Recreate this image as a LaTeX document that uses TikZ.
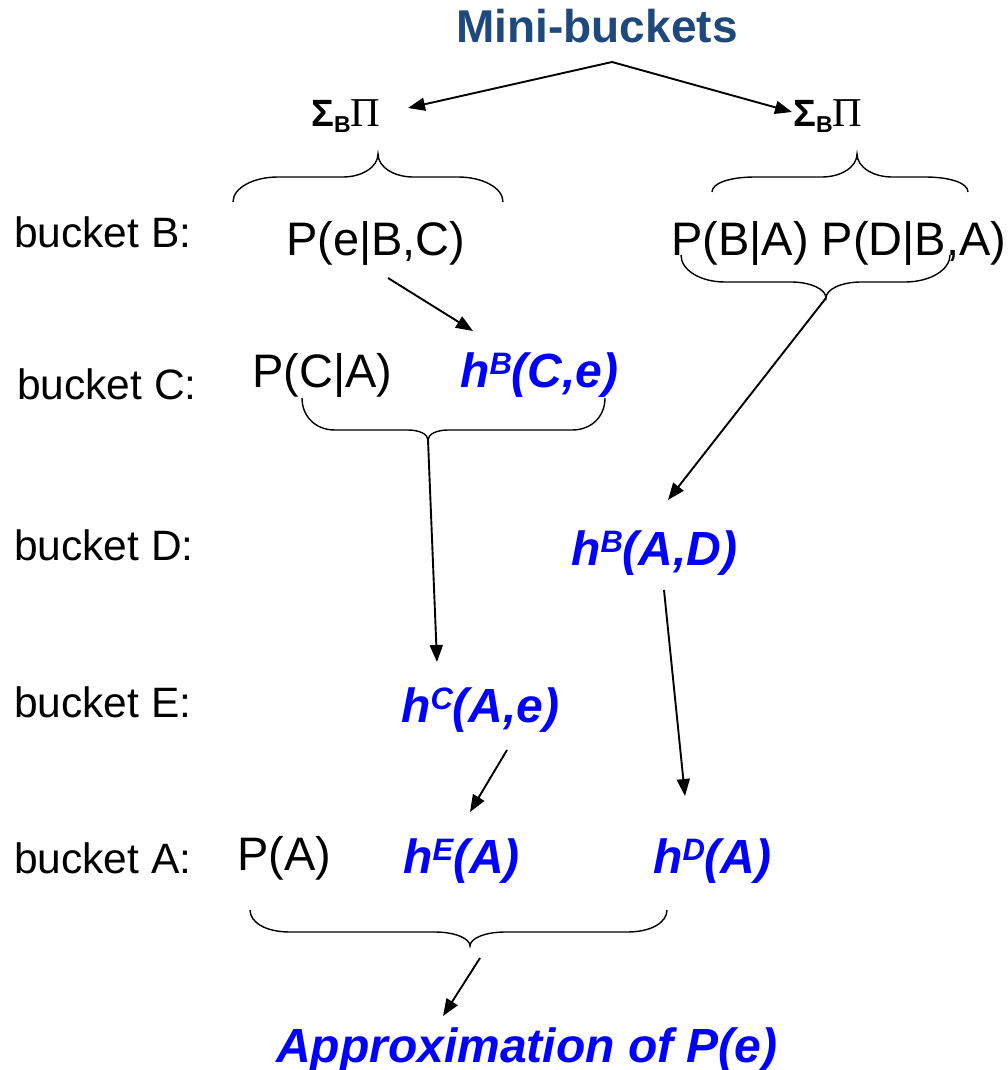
\documentclass[tikz,border=0pt]{standalone}
\usepackage{fontspec}
\setmainfont{Liberation Sans}
\newfontfamily\serifG{Liberation Serif}
\usetikzlibrary{arrows.meta}
\definecolor{hblue}{RGB}{0,0,255}
\definecolor{titleblue}{RGB}{31,73,125}
\newcommand\hsup[1]{\raisebox{13pt}{\fontsize{31}{32}\selectfont #1}}
\newcommand\sigpi{{\fontsize{38}{40}\selectfont\bfseries Σ\raisebox{-6pt}{\fontsize{23}{24}\selectfont\bfseries B}}{\serifG\fontsize{41}{42}\selectfont Π}}
\begin{document}
\begin{tikzpicture}[x=1pt,y=-1pt,
  lbl/.style={anchor=base west, inner sep=0, font=\fontsize{42.5}{48}\selectfont},
  expr/.style={anchor=base west, inner sep=0, font=\fontsize{47}{54}\selectfont},
  hexpr/.style={anchor=base west, inner sep=0, text=hblue, font=\fontsize{48}{54}\selectfont\bfseries\itshape},
  arr/.style={line width=1.9pt, -{Triangle[length=17pt,width=13pt]}},
  brc/.style={line width=1.4pt}]
\useasboundingbox[fill=white] (0,0) rectangle (1008,1070);

% title and sums
\node[anchor=base, inner sep=0, text=titleblue, font=\fontsize{46}{50}\selectfont\bfseries] (title) at (597,43) {Mini-buckets};
\coordinate (apex) at (612,62);
\node[anchor=base west, inner sep=0] (sigL) at (311,126) {\sigpi};
\node[anchor=base west, inner sep=0] (sigR) at (793,126) {\sigpi};
\coordinate (sigLend) at (408,108);
\coordinate (sigRend) at (792,112);
\draw[arr] (apex) -- (sigLend);
\draw[arr] (apex) -- (sigRend);

% bucket labels
\node[lbl] (lB) at (14,247) {bucket B:};
\node[lbl] (lC) at (17,399) {bucket C:};
\node[lbl] (lD) at (14,560) {bucket D:};
\node[lbl] (lE) at (14,717) {bucket E:};
\node[lbl] (lA) at (14,873) {bucket A:};

% expressions
\node[expr] (peBC) at (286,255) {P(e|B,C)};
\node[expr] (pBA) at (671,255) {P(B|A) P(D|B,A)};
\node[expr] (pCA) at (252,387) {P(C|A)};
\node[hexpr] (hBCe) at (460,387) {h\hsup{B}(C,e)};
\node[hexpr] (hBAD) at (571,565) {h\hsup{B}(A,D)};
\node[hexpr] (hCAe) at (401,722) {h\hsup{C}(A,e)};
\node[expr] (pA) at (237,870) {P(A)};
\node[hexpr] (hEA) at (403,873) {h\hsup{E}(A)};
\node[hexpr] (hDA) at (653,873) {h\hsup{D}(A)};
\node[hexpr] (approx) at (276,1062) {Approximation of P(e)};

% braces
\draw[brc] (233,202) .. controls (233,188) and (253,177) .. (278,177) -- (343,177)
  .. controls (362,177) and (378,167) .. (378,154)
  .. controls (378,167) and (394,177) .. (413,177) -- (458,177)
  .. controls (483,177) and (503,188) .. (503,202);
\draw[brc] (712,192) .. controls (712,183) and (730,177) .. (755,177) -- (822,177)
  .. controls (841,177) and (857,167) .. (857,154)
  .. controls (857,167) and (873,177) .. (892,177) -- (925,177)
  .. controls (950,177) and (968,183) .. (968,192);
\draw[brc] (681,255) .. controls (681,270) and (700,282) .. (725,282) -- (791,282)
  .. controls (810,282) and (826,289) .. (826,298)
  .. controls (826,289) and (842,282) .. (861,282) -- (905,282)
  .. controls (930,282) and (950,270) .. (950,255);
\coordinate (tipR) at (826,298);
\draw[brc] (302,398) .. controls (302,416) and (315,430) .. (335,430) -- (408,430)
  .. controls (419,430) and (428,434) .. (428,440)
  .. controls (428,434) and (437,430) .. (448,430) -- (572,430)
  .. controls (592,430) and (605,416) .. (605,398);
\coordinate (tipC) at (428,440);
\draw[brc] (250,910) .. controls (250,922) and (265,932) .. (290,932) -- (435,932)
  .. controls (454,932) and (470,938) .. (470,946)
  .. controls (470,938) and (486,932) .. (505,932) -- (627,932)
  .. controls (652,932) and (667,922) .. (667,910);

% arrows
\coordinate (a3s) at (388,278);
\coordinate (a3e) at (473,331);
\draw[arr] (a3s) -- (a3e);
\coordinate (a4e) at (437,662);
\draw[arr] (tipC) -- (a4e);
\coordinate (a5e) at (668,500);
\draw[arr] (tipR) -- (a5e);
\coordinate (a6s) at (664,590);
\coordinate (a6e) at (685,796);
\draw[arr] (a6s) -- (a6e);
\coordinate (a7s) at (507,750);
\coordinate (a7e) at (470,812);
\draw[arr] (a7s) -- (a7e);
\coordinate (a8s) at (480,958);
\coordinate (a8e) at (443,1016);
\draw[arr] (a8s) -- (a8e);
\end{tikzpicture}
\end{document}
